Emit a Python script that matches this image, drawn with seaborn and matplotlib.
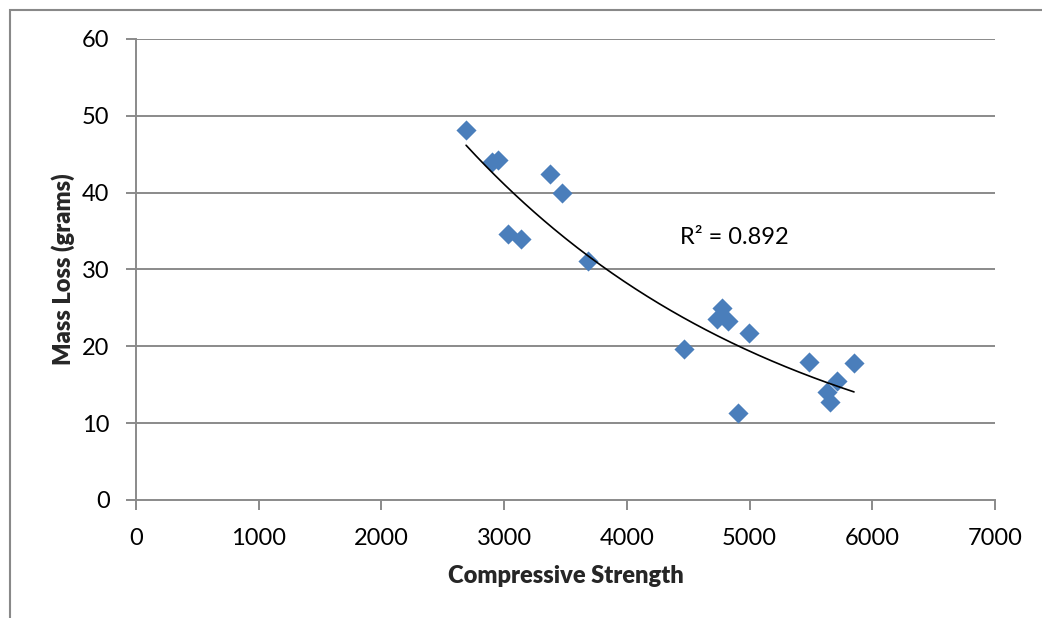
import numpy as np
import pandas as pd
import matplotlib.pyplot as plt
from matplotlib.patches import Rectangle
import seaborn as sns

# data
strength = [2690, 2905, 2946, 3374, 3471, 3032, 3137, 3683, 4466,
            4775, 4735, 4824, 4995, 4906, 5484, 5851, 5713, 5631, 5656]
mass_loss = [48.2, 44.0, 44.3, 42.4, 40.0, 34.6, 34.0, 31.1, 19.6,
             25.0, 23.5, 23.3, 21.7, 11.3, 18.0, 17.8, 15.5, 14.0, 12.8]
r2_label = "R² = 0.892"

df = pd.DataFrame({"strength": strength, "mass_loss": mass_loss})

sns.set_theme(style="white")
plt.rcParams["font.family"] = ["Lato", "DejaVu Sans"]

fig = plt.figure(figsize=(10.42, 6.18), dpi=100)
ax = fig.add_axes([0.1305, 0.191, 0.8244, 0.7459])

# chart border (Excel chart area)
fig.patches.append(Rectangle((10 / 1042, -0.5), 2.0, 0.5 + (618 - 10) / 618,
                             transform=fig.transFigure, fill=False,
                             edgecolor="#898989", linewidth=1.5))

grid_c = "#8a8a8a"
for yv in range(10, 61, 10):
    ax.axhline(yv, color=grid_c, linewidth=1.4, zorder=0)

sns.scatterplot(data=df, x="strength", y="mass_loss", marker="D", s=105,
                color="#4A7EBB", linewidth=0, ax=ax, zorder=3)

# exponential trendline (same as Excel's)
b, ln_a = np.polyfit(df["strength"], np.log(df["mass_loss"]), 1)
xs = np.linspace(df["strength"].min(), df["strength"].max(), 200)
ax.plot(xs, np.exp(ln_a) * np.exp(b * xs), color="black", linewidth=1.2, zorder=4)

ax.text(4430, 34.2, r2_label, ha="left", va="center", fontsize=17, color="black")

ax.set_xlim(0, 7000)
ax.set_ylim(0, 60)
ax.set_xticks(range(0, 7001, 1000))
ax.set_yticks(range(0, 61, 10))
ax.tick_params(axis="both", which="major", direction="out", length=7, width=1.4,
               color=grid_c, labelsize=17, labelcolor="black", left=True, bottom=True)
ax.tick_params(axis="y", pad=12)
ax.tick_params(axis="x", pad=13)

for side in ["top", "right"]:
    ax.spines[side].set_visible(False)
for side in ["left", "bottom"]:
    ax.spines[side].set_color(grid_c)
    ax.spines[side].set_linewidth(1.4)

ax.set_xlabel("Compressive Strength", fontsize=17, fontweight="heavy", labelpad=12)
ax.set_ylabel("Mass Loss (grams)", fontsize=17, fontweight="heavy", labelpad=5)

fig.savefig("out.png", dpi=100)
